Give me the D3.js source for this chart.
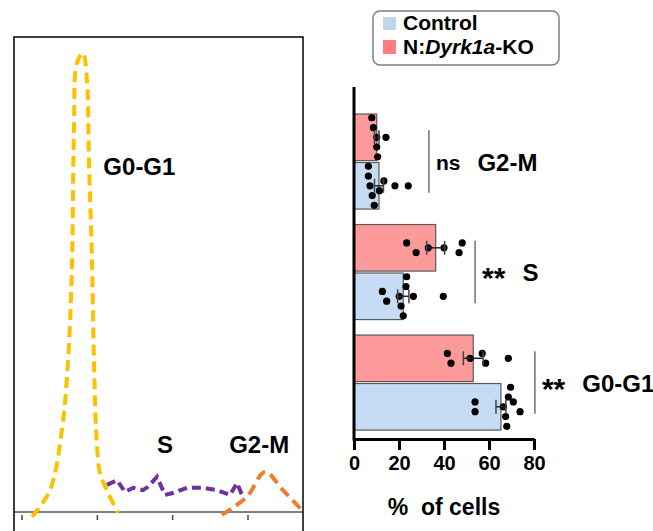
<!DOCTYPE html>
<html>
<head>
<meta charset="utf-8">
<script src="https://cdn.jsdelivr.net/npm/d3@7"></script>
<style>
  body { margin: 0; background: #fff; }
  svg { display: block; font-family: "Liberation Sans", Arial, sans-serif; }
</style>
</head>
<body>
<div id="chart"></div>
<script>
// ---- histogram traces (DNA content vs count) ----
const g1Trace = [[6.6,-1],[18.6,4.6],[26.5,17.3],[30.5,31.4],[33.2,52.4],[34.5,80.4],[36.5,94.5],[40.5,96.6],
  [43.1,90.9],[44.5,73.5],[46.5,52.4],[47.8,31.4],[49.8,13.7],[51.8,8.2],[57.1,4.0],[63.7,-0.2]];
const sTrace = [[56.4,5.7],[63.1,6.7],[68.4,4.2],[73.7,5.1],[80.3,4.6],[83.6,5.3],[89.6,7.4],[94.9,3.6],
  [100.2,4.0],[109.5,5.1],[120.1,5.1],[129.4,4.6],[138.1,3.6],[142.7,6.1],[146.0,3.6]];
const g2Trace = [[132.7,-0.6],[149.3,3.2],[161.3,8.4],[173.2,4.6],[185.8,0.4]];
const histTicks = [0, 50, 100, 150];

// ---- bar chart ----
const phases = ["G2-M", "S", "G0-G1"];
const groups = ["KO", "Control"];
const controlMean = [11.1, 21.9, 65.3];
const controlSem = [2.0, 2.5, 2.2];
const koMean = [10.1, 36.3, 53.0];
const koSem = [1.0, 4.0, 4.4];
// individual animals: [value, swarm slot 0..8]
const controlDots = [
  [[6.4,0],[6.4,2],[13.3,3],[7.1,4],[18.2,4],[24.1,4],[11.3,5],[8.1,6],[9.0,8]],
  [[23.4,0],[23.1,2],[12.6,3],[14.5,5],[20.1,4],[26.4,4],[39.7,4],[20.9,6],[21.9,8]],
  [[69.6,0],[68.6,2],[70.8,3],[73.8,5],[53.8,3],[53.8,5],[66.4,4],[67.4,6],[67.9,8]]
];
const koDots = [
  [[7.9,0],[8.6,2],[10.1,4],[14.2,4],[10.1,6],[10.5,8]],
  [[23.4,3],[27.6,5],[33.0,4],[40.0,4],[46.7,5],[48.1,3]],
  [[41.5,3],[43.1,5],[51.6,4],[57.0,3],[58.5,5],[68.6,4]]
];
const significance = ["ns", "**", "**"];
const bracketAt = [33.3, 53.8, 80.4];
const xTicks = [0, 20, 40, 60, 80];

const W = 653, H = 531;
const svg = d3.select("#chart").append("svg").attr("width", W).attr("height", H);

// ================= left: histogram =================
const hx = d3.scaleLinear().domain([0, 150]).range([22, 248]);
const hy = d3.scaleLinear().domain([0, 100]).range([512, 37]);

svg.append("rect")
  .attr("x", 14).attr("y", 37)
  .attr("width", 289).attr("height", 520)
  .attr("fill", "none").attr("stroke", "#000").attr("stroke-width", 1.5);

svg.append("line")
  .attr("x1", 14).attr("x2", 303)
  .attr("y1", hy(0)).attr("y2", hy(0))
  .attr("stroke", "#000").attr("stroke-width", 1.2);

histTicks.forEach(t => {
  svg.append("line")
    .attr("x1", hx(t)).attr("x2", hx(t))
    .attr("y1", hy(0) + 3).attr("y2", hy(0) + 8)
    .attr("stroke", "#444").attr("stroke-width", 1.5);
});

const smooth = d3.line().x(d => hx(d[0])).y(d => hy(d[1])).curve(d3.curveCatmullRom.alpha(0.5));
const straight = d3.line().x(d => hx(d[0])).y(d => hy(d[1]));

svg.append("path").attr("d", smooth(g1Trace))
  .attr("fill", "none").attr("stroke", "#ffc000").attr("stroke-width", 4)
  .attr("stroke-dasharray", "11 6");
svg.append("path").attr("d", straight(sTrace))
  .attr("fill", "none").attr("stroke", "#7030a0").attr("stroke-width", 4)
  .attr("stroke-dasharray", "9 5");
svg.append("path").attr("d", smooth(g2Trace))
  .attr("fill", "none").attr("stroke", "#ed7d31").attr("stroke-width", 4)
  .attr("stroke-dasharray", "11 6");

const histLabels = [["G0-G1", 54, 71], ["S", 89.6, 12.5], ["G2-M", 137.5, 12.5]];
histLabels.forEach(l => {
  svg.append("text")
    .attr("x", hx(l[1])).attr("y", hy(l[2]))
    .attr("font-size", 24).attr("font-weight", "bold")
    .text(l[0]);
});

// ================= right: bar chart =================
const x = d3.scaleLinear().domain([0, 80]).range([354, 534]);
const yPhase = d3.scaleBand().domain(phases).range([106.3, 437.8])
  .paddingInner(0.14).paddingOuter(0.07);
const yGroup = d3.scaleBand().domain(groups).range([0, yPhase.bandwidth()]).paddingInner(0.04);
const fills = { KO: "#ff9a9a", Control: "#c6dcf5" };

const rows = [];
phases.forEach((p, i) => {
  rows.push({ phase: p, group: "KO", mean: koMean[i], sem: koSem[i], dots: koDots[i] });
  rows.push({ phase: p, group: "Control", mean: controlMean[i], sem: controlSem[i], dots: controlDots[i] });
});

const barG = svg.append("g");
rows.forEach(r => {
  const y0 = yPhase(r.phase) + yGroup(r.group);
  const bw = yGroup.bandwidth();
  barG.append("rect")
    .attr("x", x(0)).attr("y", y0)
    .attr("width", x(r.mean) - x(0)).attr("height", bw)
    .attr("fill", fills[r.group]).attr("stroke", "#595959").attr("stroke-width", 1.2);

  r.dots.forEach(d => {
    barG.append("circle")
      .attr("cx", x(d[0]))
      .attr("cy", y0 + bw * (0.08 + d[1] * 0.105))
      .attr("r", 3.6).attr("fill", "#000");
  });

  const cy = y0 + bw / 2;
  barG.append("line")
    .attr("x1", x(r.mean - r.sem)).attr("x2", x(r.mean + r.sem))
    .attr("y1", cy).attr("y2", cy)
    .attr("stroke", "#222").attr("stroke-width", 1.5);
  [r.mean - r.sem, r.mean + r.sem].forEach(v => {
    barG.append("line")
      .attr("x1", x(v)).attr("x2", x(v))
      .attr("y1", cy - 7).attr("y2", cy + 7)
      .attr("stroke", "#444").attr("stroke-width", 1.5);
  });
});

// axes
const xAxis = svg.append("g").attr("transform", "translate(0,439)")
  .call(d3.axisBottom(x).tickValues(xTicks).tickSize(11).tickSizeOuter(0));
xAxis.select(".domain").attr("stroke", "#000").attr("stroke-width", 3);
xAxis.selectAll(".tick line").attr("stroke", "#000").attr("stroke-width", 3);
xAxis.selectAll(".tick text")
  .attr("font-family", "Liberation Sans, Arial, sans-serif")
  .attr("font-size", 20).attr("font-weight", "bold").attr("fill", "#000")
  .attr("y", 17);

svg.append("line")
  .attr("x1", x(0)).attr("x2", x(0))
  .attr("y1", 87).attr("y2", 440.5)
  .attr("stroke", "#000").attr("stroke-width", 3);

svg.append("text")
  .attr("x", 444).attr("y", 515)
  .attr("text-anchor", "middle")
  .attr("font-size", 23).attr("font-weight", "bold")
  .attr("xml:space", "preserve")
  .text("%  of cells");

// significance brackets and phase labels
phases.forEach((p, i) => {
  const bx = x(bracketAt[i]);
  const bw = yGroup.bandwidth();
  const top = yPhase(p) + yGroup("KO") + bw * 0.35;
  const bot = yPhase(p) + yGroup("Control") + bw * 0.65;
  const mid = yPhase(p) + yPhase.bandwidth() / 2;
  svg.append("line")
    .attr("x1", bx).attr("x2", bx).attr("y1", top).attr("y2", bot)
    .attr("stroke", "#595959").attr("stroke-width", 1.3);
  const sig = svg.append("text")
    .attr("x", bx + 7).attr("y", significance[i] === "ns" ? mid + 8 : mid + 16)
    .attr("font-size", significance[i] === "ns" ? 21 : 30).attr("font-weight", "bold")
    .text(significance[i]);
  const sw = sig.node().getComputedTextLength();
  svg.append("text")
    .attr("x", bx + 7 + sw + 17).attr("y", mid + 9)
    .attr("font-size", 24).attr("font-weight", "bold")
    .text(p);
});

// legend
const leg = svg.append("g");
leg.append("rect")
  .attr("x", 373).attr("y", 11).attr("width", 186).attr("height", 54)
  .attr("rx", 7).attr("fill", "#fff").attr("stroke", "#7f7f7f").attr("stroke-width", 1.5);
leg.append("rect").attr("x", 383).attr("y", 17).attr("width", 13).attr("height", 13).attr("fill", "#bdd7ee");
leg.append("rect").attr("x", 383).attr("y", 40).attr("width", 13).attr("height", 14).attr("fill", "#ff7c80");
leg.append("text").attr("x", 403).attr("y", 30)
  .attr("font-size", 21).attr("font-weight", "bold").text("Control");
const koText = leg.append("text").attr("x", 403).attr("y", 54)
  .attr("font-size", 21).attr("font-weight", "bold");
koText.append("tspan").text("N:");
koText.append("tspan").attr("font-style", "italic").text("Dyrk1a");
koText.append("tspan").text("-KO");
</script>
</body>
</html>
